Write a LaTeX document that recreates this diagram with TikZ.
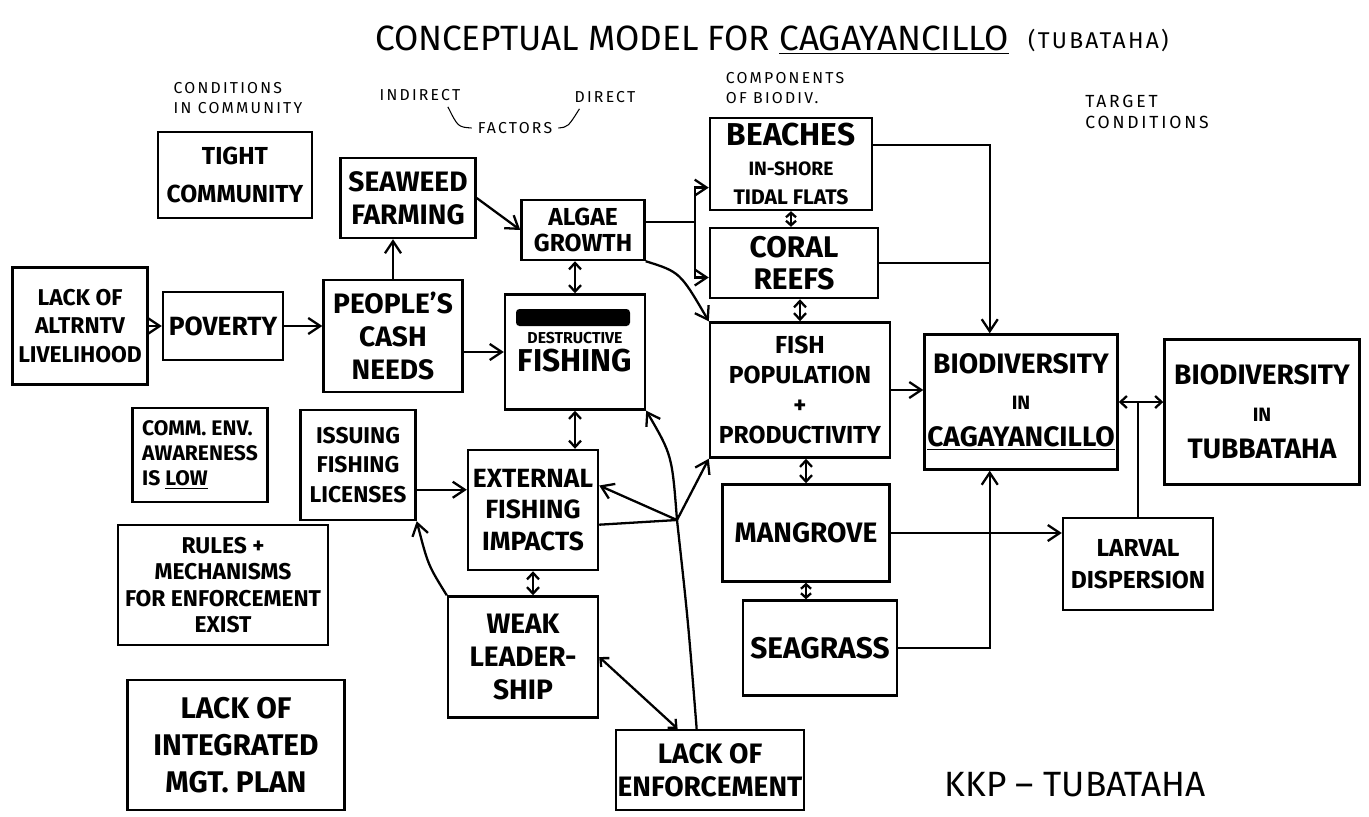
\documentclass[tikz,border=0pt]{standalone}
\usepackage{fontspec}
\setmainfont{Fira Sans}
\usetikzlibrary{arrows.meta}
\usetikzlibrary{calc}
\newcommand{\fsz}[2]{\fontsize{#1}{#2}\selectfont}

\begin{document}
\begin{tikzpicture}[x=0.02cm, y=-0.02cm]
        % ================= styles =================
        \tikzset{
            % boxes
            box/.style={draw=black, line width=1.4pt, align=center, inner sep=1pt},
            % plain connector line
            ln/.style={line width=1.3pt, black},
            % one-way and two-way arrows
            arr/.style={ln, -{Straight Barb[length=2.4mm, width=3.2mm]}},
            dbl/.style={ln, {Straight Barb[length=1.3mm, width=2.4mm]}-{Straight Barb[length=1.3mm, width=2.4mm]}},
            dblsm/.style={ln, {Straight Barb[length=0.9mm, width=2mm]}-{Straight Barb[length=0.9mm, width=2mm]}},
            % small column headings
            note/.style={align=left, font=\fsz{9}{11}\addfontfeatures{LetterSpace=14}}
        }
        \useasboundingbox (0,0) rectangle (1369,816);

        % ================= 1. title and headings =================
        \node (title) at (692,40) {\fsz{20}{24}CONCEPTUAL MODEL FOR \underline{CAGAYANCILLO}};
        \node[anchor=west] (titlesub) at (1022,40) {\fsz{13}{15}\addfontfeatures{LetterSpace=10}(TUBATAHA)};

        \node[note] (lblcond) at (238,98) {CONDITIONS\\IN COMMUNITY};
        \node[note] (lblind) at (420,95) {INDIRECT};
        \node[note] (lblfac) at (515,128) {FACTORS};
        \node[note] (lbldir) at (605,97) {DIRECT};
        \node[note] (lblcomp) at (785,88) {COMPONENTS\\OF BIODIV.};
        \node[note, font=\fsz{10}{12}\addfontfeatures{LetterSpace=16}] (lbltarget) at (1147,112) {TARGET\\CONDITIONS};
        % little ticks joining the two factor words
        \draw[line width=0.6pt] ($(lblind.south east)!0.2!(lblind.south west)$) .. controls (458,127) .. (lblfac.west);
        \draw[line width=0.6pt] (lblfac.east) .. controls (568,127) .. ($(lbldir.south west)!0.15!(lbldir.south east)$);

        \node (sig) at (1075,785) {\fsz{20}{24}KKP – TUBATAHA};

        % ================= 2. conditions in community =================
        \node[box, font=\bfseries\fsz{14}{22}, minimum width=3.08cm, minimum height=1.72cm] (tight) at (235,175) {TIGHT\\COMMUNITY};
        \node[box, font=\bfseries\fsz{13}{16}, minimum width=2.7cm, minimum height=2.34cm] (lackalt) at (80,326) {LACK OF\\ALTRNTV\\LIVELIHOOD};
        \node[box, font=\bfseries\fsz{15}{18}, minimum width=2.4cm, minimum height=1.36cm] (poverty) at (223,326) {POVERTY};
        \node[box, font=\bfseries\fsz{12}{14}, minimum width=2.7cm, minimum height=1.88cm, align=left] (aware) at (200,455) {COMM. ENV.\\AWARENESS\\IS \underline{LOW}};
        \node[box, font=\bfseries\fsz{13}{15}, minimum width=4.2cm, minimum height=2.4cm] (rules) at (223,585) {RULES +\\MECHANISMS\\FOR ENFORCEMENT\\EXIST};
        \node[box, font=\bfseries\fsz{17}{21}, minimum width=4.34cm, minimum height=2.6cm] (plan) at (236,745) {LACK OF\\INTEGRATED\\MGT. PLAN};

        % ================= 3. indirect and direct factors =================
        \node[box, font=\bfseries\fsz{16}{19}, minimum width=2.7cm, minimum height=1.6cm] (seaweed) at (408,198) {SEAWEED\\FARMING};
        \node[box, font=\bfseries\fsz{16}{19}, minimum width=2.78cm, minimum height=2.24cm] (cash) at (393,336) {PEOPLE'S\\CASH\\NEEDS};
        \node[box, font=\bfseries\fsz{14}{15}, minimum width=2.46cm, minimum height=1.2cm] (algae) at (583,230) {ALGAE\\GROWTH};
        \node[box, font=\bfseries\fsz{18}{16}, minimum width=2.8cm, minimum height=2.3cm] (destr) at (575,352) {\fsz{9}{11}DESTRUCTIVE\\FISHING};
        \node[box, font=\bfseries\fsz{13}{17}, minimum width=2.3cm, minimum height=2.2cm] (lic) at (358,465) {ISSUING\\FISHING\\LICENSES};
        \node[box, font=\bfseries\fsz{15}{18}, minimum width=2.6cm, minimum height=2.4cm] (ext) at (533,510) {EXTERNAL\\FISHING\\IMPACTS};
        \node[box, font=\bfseries\fsz{16}{19}, minimum width=3.0cm, minimum height=2.42cm] (weak) at (523,657) {WEAK\\LEADER-\\SHIP};
        \node[box, font=\bfseries\fsz{16}{19}, minimum width=3.6cm, minimum height=1.6cm] (enf) at (710,770) {LACK OF\\ENFORCEMENT};

        % crossed-out word above DESTRUCTIVE
        \fill[rounded corners=2pt] (516,309) rectangle (630,326);

        % ================= 4. components of biodiversity =================
        \node[box, font=\bfseries\fsz{18}{17}, minimum width=3.24cm, minimum height=1.84cm] (beach) at (791,164) {BEACHES\\\fsz{11}{13}IN-SHORE\\\fsz{12}{13}TIDAL FLATS};
        \node[box, font=\bfseries\fsz{17}{18}, minimum width=3.36cm, minimum height=1.4cm] (coral) at (794,263) {CORAL\\REEFS};
        \node[box, font=\bfseries\fsz{14}{17}, minimum width=3.6cm, minimum height=2.7cm] (fish) at (800,390) {FISH\\POPULATION\\+\\PRODUCTIVITY};
        \node[box, font=\bfseries\fsz{16}{19}, minimum width=3.34cm, minimum height=1.94cm] (mang) at (806,533) {MANGROVE};
        \node[box, font=\bfseries\fsz{17}{20}, minimum width=3.08cm, minimum height=1.9cm] (seag) at (820,648) {SEAGRASS};

        % ================= 5. target conditions =================
        \node[box, font=\bfseries\fsz{16}{21}, minimum width=3.86cm, minimum height=2.7cm] (biocag) at (1021,402) {BIODIVERSITY\\\fsz{11}{13}IN\\\underline{CAGAYANCILLO}};
        \node[box, font=\bfseries\fsz{16}{21}, minimum width=3.9cm, minimum height=2.9cm] (biotub) at (1262,412) {BIODIVERSITY\\\fsz{11}{13}IN\\TUBBATAHA};
        \node[box, font=\bfseries\fsz{14}{18}, minimum width=3.0cm, minimum height=1.84cm] (larv) at (1138,564) {LARVAL\\DISPERSION};

        % ================= 6. connectors =================
        % chain on the left
        \draw[arr] (lackalt.east) -- (lackalt.east -| poverty.west);
        \draw[arr] (poverty.east) -- (poverty.east -| cash.west);
        \draw[arr] (cash.north) -- (cash.north |- seaweed.south);
        \draw[arr] (cash.east |- destr.west) -- (destr.west);
        \draw[arr] (seaweed.east) -- (algae.west);
        \draw[dbl] (destr.north) -- (destr.north |- algae.south);

        % algae growth splits to beaches and coral reefs
        \coordinate (algsplit) at (695,222);
        \coordinate (beachin) at ($(beach.south west)!0.25!(beach.north west)$);
        \coordinate (coralin) at ($(coral.south west)!0.3!(coral.north west)$);
        \draw[ln] (algae.east |- algsplit) -- (algsplit);
        \draw[arr] (algsplit) |- (beachin);
        \draw[arr] (algsplit) |- (coralin);
        \draw[arr] (algae.south east) .. controls (680,272) .. (fish.north west);

        % between the components
        \draw[dblsm] (beach.south) -- (beach.south |- coral.north);
        \draw[dbl] (fish.north) -- (fish.north |- coral.south);
        \draw[dbl] (mang.north) -- (mang.north |- fish.south);
        \draw[dblsm] (mang.south) -- (mang.south |- seag.north);

        % into biodiversity in cagayancillo
        \coordinate (cagtop) at ($(biocag.north west)!0.34!(biocag.north east)$);
        \coordinate (cagbot) at ($(biocag.south west)!0.34!(biocag.south east)$);
        \coordinate (beachout) at ($(beach.north east)!0.3!(beach.south east)$);
        \draw[arr] (beachout) -| (cagtop);
        \draw[ln] (coral.east) -- (coral.east -| cagtop);
        \draw[arr] (fish.east) -- (fish.east -| biocag.west);
        \draw[arr] (seag.east) -| (cagbot);
        \draw[arr] (mang.east) -- (mang.east -| larv.west);
        \draw[dbl] (biocag.east) -- (biocag.east -| biotub.west);
        \draw[ln] (larv.north) -- (larv.north |- biocag.east);

        % fishing pressures
        \coordinate (licout) at ($(lic.north east)!0.72!(lic.south east)$);
        \draw[arr] (licout) -- (licout -| ext.west);
        \draw[dbl] (destr.south) -- (destr.south |- ext.north);
        \draw[dbl] (ext.south) -- (ext.south |- weak.north);
        \draw[arr] (weak.north west) .. controls (428,565) .. (lic.south east);
        \coordinate (enfleft) at ($(enf.north west)!0.33!(enf.north east)$);
        \draw[dbl] (weak.east) -- (enfleft);

        % lack of enforcement branches
        \coordinate (enfjn) at (677,520);
        \coordinate (enftop) at ($(enf.north west)!0.43!(enf.north east)$);
        \coordinate (extup) at ($(ext.north east)!0.3!(ext.south east)$);
        \coordinate (extlow) at ($(ext.north east)!0.62!(ext.south east)$);
        \draw[ln] (enftop) .. controls (688,620) .. (enfjn);
        \draw[arr] (enfjn) .. controls (672,455) .. (destr.south east);
        \draw[arr] (enfjn) -- (fish.south west);
        \draw[arr] (enfjn) -- (extup);
        \draw[ln] (extlow) -- (enfjn);

\end{tikzpicture}
\end{document}
